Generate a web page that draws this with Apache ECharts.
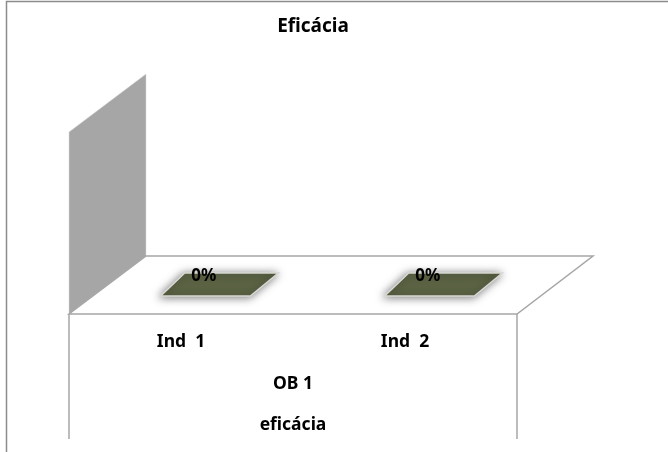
<!DOCTYPE html>
<html>
<head>
<meta charset="utf-8">
<style>html,body{margin:0;padding:0;background:#fff}#c{width:668px;height:452px}</style>
<script src="https://cdn.jsdelivr.net/npm/echarts@6/dist/echarts.min.js"></script>
</head>
<body>
<div id="c"></div>
<script>
var titleText = 'Eficácia';
var categories = ['Ind  1', 'Ind  2'];
var groupLabels = ['OB 1', 'eficácia'];
var values = [0, 0];

var DX = 77, DY = -58, FONT = '"Noto Sans", "Open Sans", sans-serif';
var chart = echarts.init(document.getElementById('c'), null, {renderer: 'canvas'});

function scene(params, api) {
  var c = params.coordSys, L = c.x, R = c.x + c.width, T = c.y, B = c.y + c.height;
  var line = {stroke: '#a6a6a6', lineWidth: 1.5, fill: null};
  return {type: 'group', silent: true, children: [
    {type: 'polygon', shape: {points: [[L, T], [L + DX, T + DY], [L + DX, B + DY], [L, B]]},
      style: {fill: '#a6a6a6', stroke: '#d9d9d9', lineWidth: 0.5}},
    {type: 'polygon', shape: {points: [[L, B], [L + DX, B + DY], [R + DX - 1, B + DY], [R, B]]},
      style: {fill: '#fff', stroke: '#a6a6a6', lineWidth: 1.5}},
    {type: 'line', shape: {x1: L, y1: B, x2: L, y2: B + 125}, style: line},
    {type: 'line', shape: {x1: R, y1: B, x2: R, y2: B + 125}, style: line},
    {type: 'rect', shape: {x: 6.5, y: 1.5, width: 700, height: 500}, style: {fill: null, stroke: '#8c8c8c', lineWidth: 1.5}}
  ]};
}

function bar(params, api) {
  var base = api.coord([api.value(0), 0]);
  var top = api.coord([api.value(0), api.value(1)]);
  var w = api.size([1, 0])[0] * 0.4;
  var h = base[1] - top[1];
  var x0 = base[0] + 24.5 - w / 2, x1 = x0 + w, y0 = base[1] - 18 - h;
  var dy = -23;
  var pts = [[x0, y0], [x0 + 24, y0 + dy], [x1 + 28, y0 + dy], [x1, y0]];
  return {type: 'group', children: [
    {type: 'polygon', shape: {points: pts},
      style: {fill: '#5b6344', stroke: '#d8d8d4', lineWidth: 1.5, shadowBlur: 8, shadowColor: 'rgba(0,0,0,0.5)', shadowOffsetX: -1, shadowOffsetY: 1}},
    {type: 'text', x: x0 + 43, y: y0 - 20,
      style: {text: Math.round(api.value(1) * 100) + '%', font: 'bold 17px ' + FONT, fill: '#000', align: 'center', verticalAlign: 'middle'}}
  ]};
}

chart.setOption({
  animation: false,
  backgroundColor: '#fff',
  graphic: [
    {type: 'text', x: 313, y: 27, style: {text: titleText, font: 'bold 19px ' + FONT, fill: '#000', align: 'center', verticalAlign: 'middle'}},
    {type: 'text', x: 293, y: 384, style: {text: groupLabels[0], font: 'bold 17.5px ' + FONT, fill: '#000', align: 'center', verticalAlign: 'middle'}},
    {type: 'text', x: 293, y: 425, style: {text: groupLabels[1], font: 'bold 17.5px ' + FONT, fill: '#000', align: 'center', verticalAlign: 'middle'}}
  ],
  grid: {left: 69, right: 151, top: 132, bottom: 138},
  xAxis: {type: 'category', data: categories,
    axisLine: {show: false}, axisTick: {show: false}, splitLine: {show: false},
    axisLabel: {show: true, margin: 19, color: '#000', fontFamily: FONT, fontSize: 17.5, fontWeight: 'bold'}},
  yAxis: {type: 'value', min: 0, max: 1, show: false},
  series: [
    {type: 'custom', coordinateSystem: 'cartesian2d', data: [[0, 0]], renderItem: scene, clip: false, z: 1},
    {type: 'custom', coordinateSystem: 'cartesian2d', data: values.map(function (v, i) { return [i, v]; }),
      encode: {x: 0, y: 1}, renderItem: bar, clip: false, z: 2}
  ]
});
</script>
</body>
</html>
